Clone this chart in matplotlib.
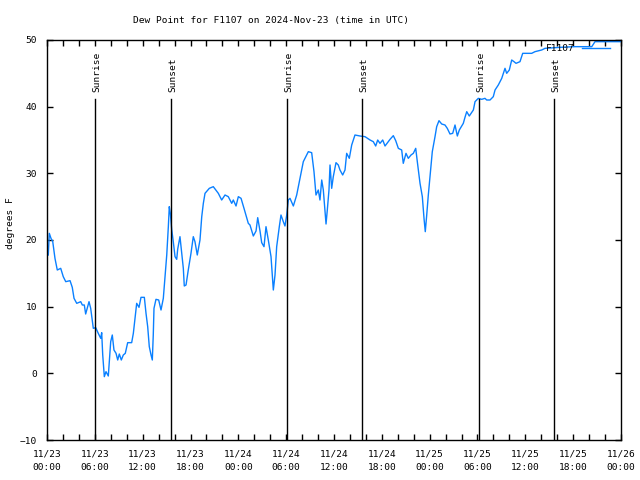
import numpy as np
import matplotlib
matplotlib.use("Agg")
import matplotlib.pyplot as plt
from matplotlib.ticker import MultipleLocator

# hours since 11/23 00:00 UTC, dew point in F
hours = [0.16, 0.29, 0.50, 0.72, 1.00, 1.29, 1.72, 2.04, 2.35, 2.89, 3.17, 3.39, 3.73,
         4.23, 4.43, 4.68, 4.85, 5.27, 5.48, 5.81, 6.11, 6.43, 6.74, 6.86, 6.99, 7.19,
         7.40, 7.69, 7.81, 7.99, 8.19, 8.40, 8.66, 8.87, 9.07, 9.32, 9.57, 9.82, 10.12,
         10.62, 10.83, 11.04, 11.25, 11.54, 11.79, 12.21, 12.42, 12.63, 12.83, 13.05,
         13.21, 13.33, 13.42, 13.67, 14.01, 14.30, 14.59, 14.80, 15.02, 15.22, 15.34,
         15.47, 15.64, 15.84, 16.06, 16.27, 16.39, 16.68, 16.90, 17.10, 17.22, 17.44,
         17.72, 18.06, 18.35, 18.56, 18.85, 19.19, 19.41, 19.61, 19.82, 20.36, 20.86,
         21.49, 21.91, 22.33, 22.74, 23.17, 23.37, 23.71, 24.00, 24.34, 24.71, 25.25,
         25.46, 25.88, 26.22, 26.43, 26.72, 26.93, 27.22, 27.47, 27.76, 28.10, 28.39,
         28.60, 28.81, 29.14, 29.35, 29.64, 29.85, 30.07, 30.27, 30.48, 30.90, 31.32,
         31.74, 32.15, 32.78, 33.20, 33.49, 33.74, 34.03, 34.24, 34.46, 34.66, 34.87,
         35.00, 35.16, 35.37, 35.50, 35.71, 35.91, 36.25, 36.54, 36.75, 37.09, 37.38,
         37.59, 37.92, 38.22, 38.63, 39.26, 39.89, 40.52, 40.93, 41.23, 41.48, 41.77,
         42.11, 42.40, 43.03, 43.44, 43.74, 44.07, 44.49, 44.69, 45.03, 45.32, 45.66,
         45.95, 46.25, 46.45, 46.79, 47.08, 47.29, 47.45, 47.63, 47.83, 48.04, 48.33,
         48.67, 48.88, 49.17, 49.51, 49.92, 50.21, 50.55, 50.89, 51.18, 51.47, 51.72,
         52.22, 52.43, 52.65, 52.97, 53.48, 53.69, 54.10, 54.53, 54.94, 55.15, 55.57,
         55.98, 56.20, 56.61, 57.04, 57.45, 57.66, 57.99, 58.29, 58.58, 58.83, 59.33,
         59.67, 60.80, 61.21, 62.05, 62.47, 64.35, 66.23, 68.33, 68.74, 72.0]
dewpt = [17.75, 21.0, 20.25, 19.75, 17.25, 15.5, 15.75, 14.5, 13.75, 13.9, 12.9, 11.25,
         10.5, 10.75, 10.25, 10.25, 8.9, 10.75, 9.75, 6.75, 6.85, 6.0, 5.25, 6.1, 2.75,
         -0.5, 0.25, -0.4, 1.75, 4.75, 5.75, 3.5, 3.0, 2.0, 2.9, 2.0, 2.75, 3.0, 4.6,
         4.6, 6.0, 8.25, 10.5, 9.9, 11.4, 11.4, 9.0, 7.0, 4.0, 2.75, 2.0, 5.75, 9.75,
         11.1, 11.0, 9.5, 11.25, 14.5, 17.75, 22.0, 25.0, 24.0, 21.6, 19.75, 17.5, 17.1,
         18.6, 20.5, 18.0, 15.75, 13.1, 13.25, 15.5, 18.0, 20.5, 19.75, 17.75, 20.0,
         23.5, 25.5, 27.0, 27.75, 28.0, 27.0, 26.0, 26.75, 26.5, 25.5, 26.0, 25.1, 26.5,
         26.25, 24.75, 22.5, 22.25, 20.6, 21.35, 23.35, 21.35, 19.6, 19.0, 22.0, 20.0,
         17.5, 12.5, 14.75, 19.0, 22.0, 23.75, 22.75, 22.1, 23.75, 26.0, 26.25, 25.1,
         26.75, 29.25, 31.75, 33.25, 33.1, 30.25, 26.75, 27.5, 26.0, 29.0, 27.5, 24.25,
         22.4, 24.5, 27.5, 31.25, 27.75, 29.5, 31.6, 31.25, 30.5, 29.75, 30.5, 33.0,
         32.25, 34.25, 35.75, 35.6, 35.5, 35.0, 34.75, 34.1, 35.0, 34.5, 35.0, 34.1,
         35.1, 35.65, 34.9, 33.75, 33.5, 31.5, 33.0, 32.25, 32.75, 33.0, 33.75, 31.75,
         28.5, 26.5, 23.25, 21.25, 23.75, 26.75, 29.5, 33.25, 35.5, 37.0, 37.9, 37.4,
         37.25, 36.75, 35.9, 36.0, 37.25, 35.6, 36.5, 37.5, 38.4, 39.25, 38.6, 39.5,
         40.75, 41.25, 41.1, 41.25, 41.0, 41.0, 41.5, 42.5, 43.25, 44.25, 45.75, 45.0,
         45.5, 47.0, 46.75, 46.5, 46.75, 48.0, 48.0, 48.25, 48.5, 48.75, 48.9, 49.0,
         49.0, 49.75, 49.75]

sun_hours = [6.06, 15.59, 30.15, 39.55, 54.23, 63.64]
sun_names = ["Sunrise", "Sunset", "Sunrise", "Sunset", "Sunrise", "Sunset"]

tick_labels = ["11/23\n00:00", "11/23\n06:00", "11/23\n12:00", "11/23\n18:00",
               "11/24\n00:00", "11/24\n06:00", "11/24\n12:00", "11/24\n18:00",
               "11/25\n00:00", "11/25\n06:00", "11/25\n12:00", "11/25\n18:00",
               "11/26\n00:00"]

plt.rcParams['font.family'] = ['DejaVu Sans Mono']
fs = 6.8

fig = plt.figure(figsize=(6.4, 4.8), dpi=100)
ax = fig.add_axes([47/640, 40/480, 574/640, 400/480])

ax.plot(hours, dewpt, color='#0a80ff', lw=1.0, label='F1107')

for h, name in zip(sun_hours, sun_names):
    ax.plot([h, h], [-10, 41.2], color='black', lw=1.0)
    ax.text(h + 0.15, 42.2, name, rotation=90, ha='center', va='bottom', fontsize=fs)

ax.set_xlim(0, 72)
ax.set_ylim(-10, 50)
ax.set_xticks(np.arange(0, 73, 6))
ax.set_xticklabels(tick_labels, fontsize=fs, linespacing=1.55)
ax.xaxis.set_minor_locator(MultipleLocator(2))
ax.set_yticks(np.arange(-10, 51, 10))
ax.tick_params(axis='y', labelsize=fs, pad=7)
ax.tick_params(axis='x', pad=7)
ax.tick_params(which='both', direction='in', top=True, right=True, length=4, width=1)
for sp in ax.spines.values():
    sp.set_linewidth(1.0)

ax.legend(loc='center right', bbox_to_anchor=(0.981, 0.979), frameon=False,
          markerfirst=False, fontsize=fs, handlelength=3.0, handletextpad=0.8,
          borderaxespad=0, borderpad=0)

fig.text(271/640, 1 - 20/480, "Dew Point for F1107 on 2024-Nov-23 (time in UTC)",
         ha='center', va='center', fontsize=fs)
fig.text(10.5/640, 1 - 223/480, "degrees F", rotation=90, ha='center', va='center',
         fontsize=fs)

fig.savefig("out.png", dpi=100)
